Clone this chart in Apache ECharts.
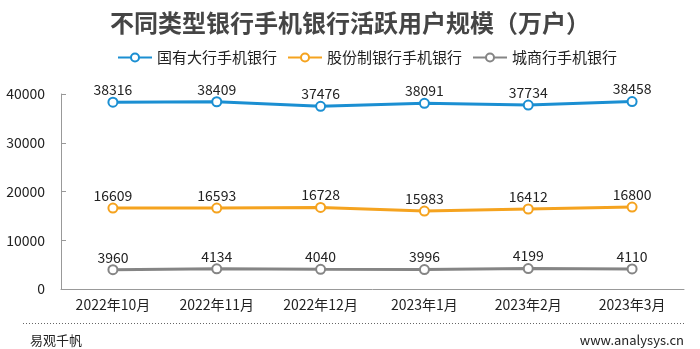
<!DOCTYPE html>
<html><head><meta charset="utf-8">
<script src="https://cdn.jsdelivr.net/npm/echarts@6/dist/echarts.min.js"></script>
<style>html,body{margin:0;padding:0;background:#fff}#c{width:700px;height:349px}</style>
</head><body><div id="c"></div>
<script>
const categories = ['2022年10月','2022年11月','2022年12月','2023年1月','2023年2月','2023年3月'];
const seriesNames = ['国有大行手机银行','股份制银行手机银行','城商行手机银行'];
const stateBanks = [38316,38409,37476,38091,37734,38458];
const jointStock = [16609,16593,16728,15983,16412,16800];
const cityBanks = [3960,4134,4040,3996,4199,4110];
const colors = ['#1b8fd2','#f5a31f','#858585'];
const font = '"Noto Sans CJK SC", "Noto Sans", sans-serif';
const chart = echarts.init(document.getElementById('c'));
function mk(name, data, color, border){
  return {name, type:'line', data, symbol:'emptyCircle', symbolSize:9,
    lineStyle:{width:3,color}, itemStyle:{color, borderColor:border, borderWidth:1.5},
    label:{show:true, position:'top', distance:0, color:'#222', fontSize:14, fontFamily:font},
    emphasis:{disabled:true}};
}
chart.setOption({
  animation:false,
  color:colors,
  title:{text:'不同类型银行手机银行活跃用户规模（万户）', left:'center', top:6,
    textStyle:{fontSize:24, fontWeight:'bold', color:'#454545', fontFamily:font}},
  legend:{top:45, left:112, itemWidth:34, itemHeight:10, itemGap:10,
    textStyle:{fontSize:15, color:'#222', fontFamily:font}, data:seriesNames},
  grid:{left:61, right:16, top:94, bottom:60},
  xAxis:{type:'category', data:categories, boundaryGap:true,
    axisLine:{lineStyle:{color:'#999'}}, axisTick:{show:false},
    axisLabel:{color:'#222', fontSize:14, margin:9, fontFamily:font}},
  yAxis:{type:'value', min:0, max:40000, interval:10000,
    axisLine:{show:true, lineStyle:{color:'#999'}},
    axisTick:{show:true, inside:true, length:5, lineStyle:{color:'#999'}},
    splitLine:{show:false},
    axisLabel:{color:'#222', fontSize:14, margin:16, fontFamily:font, formatter:v=>String(v)}},
  series:[mk(seriesNames[0], stateBanks, colors[0], '#a9d3ec'),
          mk(seriesNames[1], jointStock, colors[1], '#f7c27a'),
          mk(seriesNames[2], cityBanks, colors[2], '#b5b5b5')],
  graphic:{elements:[
    {type:'line', silent:true, shape:{x1:23,y1:323.5,x2:685,y2:323.5}, style:{stroke:'#666', lineWidth:1, lineDash:[1,2], fill:null}},
    {type:'text', left:30, top:334, style:{text:'易观千帆', fontSize:13, fill:'#222', fontFamily:font}},
    {type:'text', right:16, top:334, style:{text:'www.analysys.cn', fontSize:13, fill:'#222', fontFamily:font}}
  ]}
});
</script></body></html>
